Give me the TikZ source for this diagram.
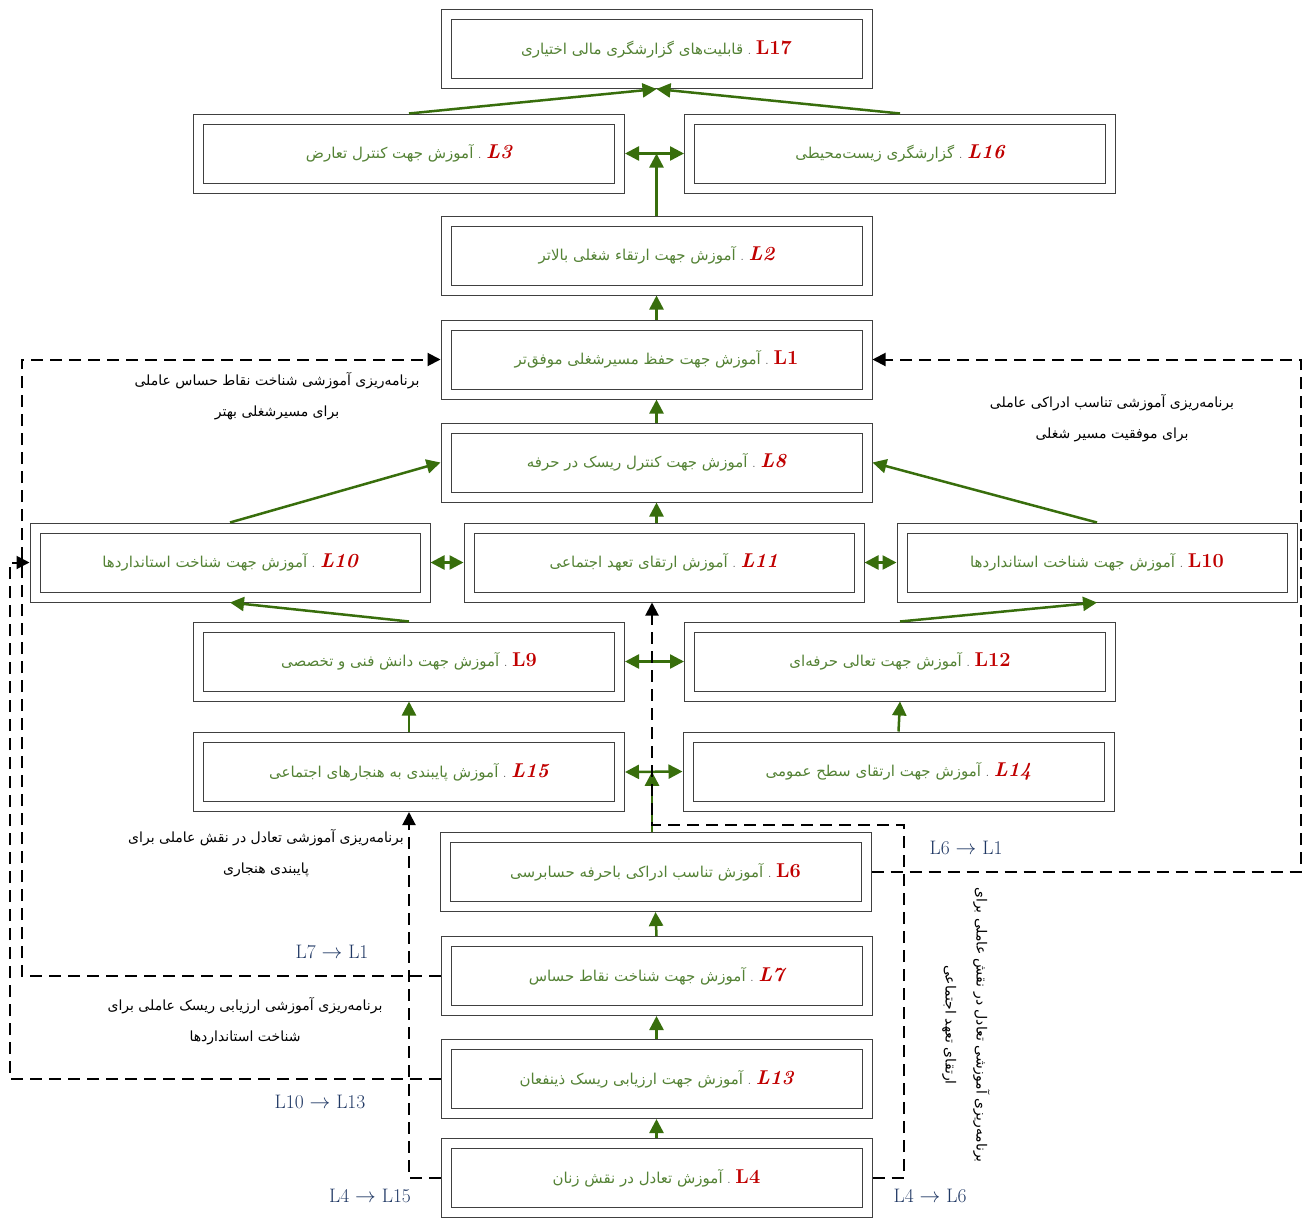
\documentclass[tikz,border=0pt]{standalone}
\usepackage{fontspec}
\usepackage{xcolor}
\usetikzlibrary{arrows.meta, positioning, calc}
\TeXXeTstate=1
\newfontfamily\fafont[Script=Arabic]{DejaVu Sans}
\definecolor{lgreen}{RGB}{84,130,53}
\definecolor{agreen}{RGB}{56,110,12}
\definecolor{lred}{RGB}{192,0,0}
\definecolor{lblue}{RGB}{32,56,100}
\newcommand{\lab}[2]{\textcolor{lgreen}{\fafont #2}~\textcolor{black!70}{.}~\textcolor{lred}{\fontsize{20}{22}\selectfont\bfseries #1}}

\tikzset{
  lbox/.style={draw=black!75, double, double distance=9pt, line width=1pt,
    minimum width=421pt, minimum height=69pt, inner sep=0pt, outer sep=5.5pt,
    font=\fontsize{15}{18}\selectfont},
  sbox/.style={lbox, minimum width=390pt},
  garrow/.style={-{Triangle[length=14pt,width=14pt]}, draw=agreen, line width=2.5pt},
  gboth/.style={{Triangle[length=14pt,width=14pt]}-{Triangle[length=14pt,width=14pt]}, draw=agreen, line width=2.5pt},
  darrow/.style={-{Triangle[length=13pt,width=13pt]}, line width=2pt, dash pattern=on 12pt off 7pt},
  note/.style={align=center, font=\fafont\fontsize{14}{31}\selectfont},
  ltag/.style={text=lblue, font=\fontsize{19.5}{22}\selectfont}
}

\begin{document}
\begin{tikzpicture}[x=1pt, y=-1pt]
  \useasboundingbox (0,0) rectangle (1303,1218);

  % سطرهای مدل
  \node[lbox] (L17) at (656.5,49) {\lab{L17}{\beginR قابلیت‌های گزارشگری مالی اختیاری\endR}};
  \node[lbox] (L3) at (409,153.5) {\lab{\itshape L3}{\beginR آموزش جهت کنترل تعارض\endR}};
  \node[lbox] (L16) at (900,153.5) {\lab{\itshape L16}{\beginR گزارشگری زیست‌محیطی\endR}};
  \node[lbox] (L2) at (656.5,255.5) {\lab{\itshape L2}{\beginR آموزش جهت ارتقاء شغلی بالاتر\endR}};
  \node[lbox] (L1) at (656.5,359.5) {\lab{L1}{\beginR آموزش جهت حفظ مسیرشغلی موفق‌تر\endR}};
  \node[lbox] (L8) at (656.5,462.5) {\lab{\itshape L8}{\beginR آموزش جهت کنترل ریسک در حرفه\endR}};
  \node[sbox] (L10a) at (230,562.5) {\lab{\itshape L10}{\beginR آموزش جهت شناخت استانداردها\endR}};
  \node[sbox] (L11) at (664,562.5) {\lab{\itshape L11}{\beginR آموزش ارتقای تعهد اجتماعی\endR}};
  \node[sbox] (L10b) at (1097,562.5) {\lab{L10}{\beginR آموزش جهت شناخت استانداردها\endR}};
  \node[lbox] (L9) at (409,661.5) {\lab{L9}{\beginR آموزش جهت دانش فنی و تخصصی\endR}};
  \node[lbox] (L12) at (900,661.5) {\lab{L12}{\beginR آموزش جهت تعالی حرفه‌ای\endR}};
  \node[lbox] (L15) at (409,772) {\lab{\itshape L15}{\beginR آموزش پایبندی به هنجارهای اجتماعی\endR}};
  \node[lbox] (L14) at (898.5,771.5) {\lab{\itshape L14}{\beginR آموزش جهت ارتقای سطح عمومی\endR}};
  \node[lbox] (L6) at (655.5,872) {\lab{L6}{\beginR آموزش تناسب ادراکی باحرفه حسابرسی\endR}};
  \node[lbox] (L7) at (656.5,976) {\lab{\itshape L7}{\beginR آموزش جهت شناخت نقاط حساس\endR}};
  \node[lbox] (L13) at (656.5,1079) {\lab{\itshape L13}{\beginR آموزش جهت ارزیابی ریسک ذینفعان\endR}};
  \node[lbox] (L4) at (656.5,1178) {\lab{L4}{\beginR آموزش تعادل در نقش زنان\endR}};

  % پیکان‌های سبز
  \draw[garrow] (L3.north) -- (L17.south);
  \draw[garrow] (L16.north) -- (L17.south);
  \draw[gboth] (L3.east) -- (L16.west);
  \coordinate (m1) at ($(L3.east)!0.5!(L16.west)$);
  \draw[garrow] (L2.north) -- (L2.north |- m1);
  \draw[garrow] (L1.north) -- (L2.south);
  \draw[garrow] (L8.north) -- (L1.south);
  \draw[garrow] (L8.south |- L11.north) -- (L8.south);
  \draw[garrow] (L10a.north) -- (L8.west);
  \draw[garrow] (L10b.north) -- (L8.east);
  \draw[gboth] (L10a.east) -- (L11.west);
  \draw[gboth] (L11.east) -- (L10b.west);
  \draw[garrow] (L9.north) -- (L10a.south);
  \draw[garrow] (L12.north) -- (L10b.south);
  \draw[gboth] (L9.east) -- (L12.west);
  \draw[garrow] (L15.north) -- (L9.south);
  \draw[garrow] (L14.north) -- (L12.south);
  \draw[gboth] (L15.east) -- (L14.west);
  \coordinate (m2) at ($(L15.east)!0.5!(L14.west)$);
  \coordinate (k1) at (652,825);
  \draw[garrow] (k1 |- L6.north) -- (k1 |- m2);
  \draw[garrow] (L7.north) -- (L6.south);
  \draw[garrow] (L13.north) -- (L7.south);
  \draw[garrow] (L4.north) -- (L13.south);

  % مسیرهای خط‌چین
  \draw[darrow] (L7.west) -- ++(-419,0) |- (L1.west);
  \draw[darrow] (L6.east) -- ++(429,0) |- (L1.east);
  \draw[darrow] (L13.west) -- ++(-431,0) |- (L10a.west);
  \draw[darrow] (L4.west) -| (L15.south);
  \draw[darrow] (L4.east) -- ++(31,0) |- (k1) -- (k1 |- L11.south);

  \node[ltag] (t1) at (966,848) {L6 $\rightarrow$ L1};
  \node[ltag] (t2) at (332,952) {L7 $\rightarrow$ L1};
  \node[ltag] (t3) at (320,1102) {L10 $\rightarrow$ L13};
  \node[ltag] (t4) at (370,1196) {L4 $\rightarrow$ L15};
  \node[ltag] (t5) at (930,1196) {L4 $\rightarrow$ L6};

  \node[note] (n1) at (277,396) {\beginR برنامه‌ریزی آموزشی شناخت نقاط حساس عاملی\endR\\\beginR برای مسیرشغلی بهتر\endR};
  \node[note] (n2) at (1112,418) {\beginR برنامه‌ریزی آموزشی تناسب ادراکی عاملی\endR\\\beginR برای موفقیت مسیر شغلی\endR};
  \node[note] (n3) at (266,853) {\beginR برنامه‌ریزی آموزشی تعادل در نقش عاملی برای\endR\\\beginR پایبندی هنجاری\endR};
  \node[note] (n4) at (245,1021) {\beginR برنامه‌ریزی آموزشی ارزیابی ریسک عاملی برای\endR\\\beginR شناخت استانداردها\endR};
  \node[note, rotate=-90] (n5) at (966,1025) {\beginR برنامه‌ریزی آموزشی تعادل در نقش عاملی برای\endR\\\beginR ارتقای تعهد اجتماعی\endR};
\end{tikzpicture}
\end{document}
